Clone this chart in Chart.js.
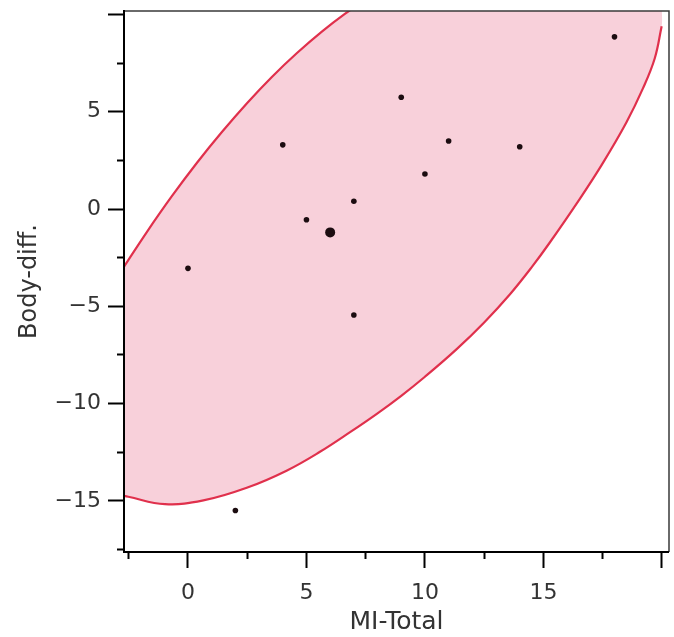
<!DOCTYPE html>
<html>
<head>
<meta charset="utf-8">
<script src="https://cdn.jsdelivr.net/npm/chart.js@4.4.1/dist/chart.umd.min.js"></script>
<style>
  html, body { margin: 0; padding: 0; background: #fff; }
  #wrap { width: 674px; height: 637px; position: relative; }
</style>
</head>
<body>
<div id="wrap"><canvas id="chart"></canvas></div>
<script>
// observations (MI-Total vs Body-diff.)
const miTotal = [0, 2, 4, 5, 7, 7, 9, 10, 11, 14, 18];
const bodyDiff = [-3.05, -15.5, 3.3, -0.55, 0.4, -5.45, 5.75, 1.8, 3.5, 3.2, 8.85];

// larger marker
const bigX = [6];
const bigY = [-1.2];

// density ellipse outline
const upperX = [-2.79, -1.73, -0.68, 0.38, 1.44, 2.49, 3.54, 4.6, 5.65, 6.62, 7.55];
const upperY = [-3.13, -1.17, 0.66, 2.38, 3.97, 5.44, 6.79, 8.02, 9.12, 10.03, 10.8];
const lowerX = [19.99, 19.7, 19.2, 18.5, 17.5, 16.5, 15.27, 14.5, 13.59, 12.5, 11.34, 10, 9, 8, 6.84, 5.57, 4.16, 2.48, 0.65, -0.97, -2.52, -2.8];
const lowerY = [9.4, 7.75, 6.2, 4.45, 2.35, 0.46, -1.72, -3.0, -4.38, -5.83, -7.2, -8.62, -9.6, -10.5, -11.47, -12.48, -13.45, -14.33, -14.98, -15.17, -14.79, -14.71];
// corner points that close the shaded area above the plot
const cornerX = [13, 20.0, 20.0];
const cornerY = [10.8, 10.8, 10.2];

// axes
const xMin = -2.7, xMax = 20.3;
const yMin = -17.63, yMax = 10.18;
const xMajor = [0, 5, 10, 15, 20];
const yMajor = [-15, -10, -5, 0, 5, 10];
const xTickLabels = [0, 5, 10, 15];
const yTickLabels = [-15, -10, -5, 0, 5];

const RED = '#e0304c';
const PINK = '#f8d0da';
const INK = '#1c0c10';

function toPoints(xs, ys) {
  return xs.map((x, i) => ({ x: x, y: ys[i] }));
}

const fillPoints = toPoints(upperX, upperY)
  .concat(toPoints(cornerX, cornerY))
  .concat(toPoints(lowerX, lowerY));

function fmt(v) {
  return v < 0 ? '\u2212' + Math.abs(v) : String(v);
}

// no extra room for the edge labels
function noEdgePadding(scale) {
  scale.paddingTop = 0;
  scale.paddingBottom = 0;
  scale.paddingLeft = 0;
  scale.paddingRight = 0;
}

// frame drawn over the shaded area
const framePlugin = {
  id: 'frame',
  afterDatasetsDraw(chart) {
    const { ctx, chartArea: a } = chart;
    ctx.save();
    ctx.strokeStyle = '#3a3a3a';
    ctx.lineWidth = 1.5;
    ctx.beginPath();
    ctx.moveTo(a.left, a.top);
    ctx.lineTo(a.right, a.top);
    ctx.lineTo(a.right, a.bottom);
    ctx.stroke();
    ctx.strokeStyle = '#000';
    ctx.lineWidth = 2;
    ctx.beginPath();
    ctx.moveTo(a.left, a.top - 1);
    ctx.lineTo(a.left, a.bottom);
    ctx.lineTo(a.right, a.bottom);
    ctx.stroke();
    ctx.restore();
  }
};

const ctx = document.getElementById('chart');

new Chart(ctx, {
  type: 'scatter',
  data: {
    datasets: [
      {
        data: toPoints(bigX, bigY),
        pointRadius: 5,
        pointBackgroundColor: INK,
        pointBorderWidth: 0,
        order: 0
      },
      {
        data: toPoints(miTotal, bodyDiff),
        pointRadius: 2.8,
        pointBackgroundColor: INK,
        pointBorderWidth: 0,
        order: 1
      },
      {
        data: toPoints(upperX, upperY),
        showLine: true,
        pointRadius: 0,
        borderColor: RED,
        borderWidth: 2.2,
        tension: 0.4,
        fill: false,
        order: 2
      },
      {
        data: toPoints(lowerX, lowerY),
        showLine: true,
        pointRadius: 0,
        borderColor: RED,
        borderWidth: 2.2,
        tension: 0.4,
        fill: false,
        order: 3
      },
      {
        data: fillPoints,
        showLine: true,
        pointRadius: 0,
        borderWidth: 0,
        borderColor: 'rgba(0,0,0,0)',
        backgroundColor: PINK,
        tension: 0.4,
        fill: 'shape',
        order: 4
      }
    ]
  },
  options: {
    responsive: true,
    maintainAspectRatio: false,
    animation: false,
    layout: {
      padding: { top: 11, right: 5, left: 0, bottom: 0 }
    },
    elements: {
      line: { capBezierPoints: false }
    },
    plugins: {
      legend: { display: false },
      tooltip: { enabled: false }
    },
    scales: {
      x: {
        type: 'linear',
        min: xMin,
        max: xMax,
        afterFit: function(scale) { scale.height = 85; noEdgePadding(scale); },
        border: { display: false },
        grid: {
          drawOnChartArea: false,
          drawTicks: true,
          tickLength: 16,
          tickWidth: 2,
          tickColor: '#000',
          tickBorderDash: function(c) {
            return xMajor.includes(c.tick.value) ? [] : [7, 100];
          }
        },
        ticks: {
          stepSize: 2.5,
          includeBounds: false,
          autoSkip: false,
          maxRotation: 0,
          padding: 12,
          color: '#333',
          font: { family: 'DejaVu Sans', size: 22 },
          callback: function(v) { return xTickLabels.includes(v) ? fmt(v) : ''; }
        },
        title: {
          display: true,
          text: 'MI-Total',
          color: '#333',
          font: { family: 'DejaVu Sans', size: 25 },
          padding: { top: 0, bottom: 0 }
        }
      },
      y: {
        type: 'linear',
        min: yMin,
        max: yMax,
        afterFit: function(scale) { scale.width = 124; noEdgePadding(scale); },
        border: { display: false },
        grid: {
          drawOnChartArea: false,
          drawTicks: true,
          tickLength: 16,
          tickWidth: 2,
          tickColor: '#000',
          tickBorderDash: function(c) {
            return yMajor.includes(c.tick.value) ? [] : [0, 9, 7, 100];
          }
        },
        ticks: {
          stepSize: 2.5,
          includeBounds: false,
          autoSkip: false,
          padding: 7,
          color: '#333',
          font: { family: 'DejaVu Sans', size: 22 },
          callback: function(v) { return yTickLabels.includes(v) ? fmt(v) : ''; }
        },
        title: {
          display: true,
          text: 'Body-diff.',
          color: '#333',
          font: { family: 'DejaVu Sans', size: 24 },
          padding: { top: 15, bottom: 0 }
        }
      }
    }
  },
  plugins: [framePlugin]
});
</script>
</body>
</html>
